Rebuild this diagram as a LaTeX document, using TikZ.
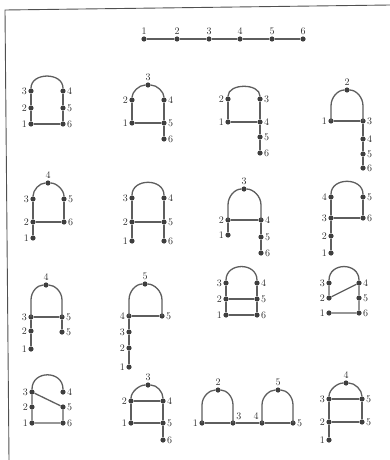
\documentclass[tikz,border=0pt]{standalone}
\usepackage{xcolor}
\definecolor{DotGrey}{HTML}{3E3E3E}
\definecolor{LineGrey}{HTML}{5E5E5E}
\definecolor{LabelGrey}{HTML}{2E2E2E}
\definecolor{FrameGrey}{HTML}{505050}
\usepackage{tikz}
\begin{document}
\begin{tikzpicture}[
    x=1pt, y=-1pt,
    vtx/.style={circle, fill=DotGrey, inner sep=0pt, minimum size=5.2pt},
    edge/.style={draw=LineGrey, line width=1.3pt},
    every label/.style={font=\fontsize{10}{12}\selectfont, text=LabelGrey, inner sep=0.8pt},
    label distance=0.4pt
  ]
    \useasboundingbox (0,0) rectangle (390,460);
    \draw[FrameGrey, line width=0.9pt] (390,5) -- (5,10) -- (9,460);

    % path
    \foreach \i/\x in {1/144,2/177,3/209,4/240,5/272,6/303}
      \node[vtx, label=above:\i] (t\i) at (\x,39) {};
    \draw[edge] (t1) -- (t2) -- (t3) -- (t4) -- (t5) -- (t6);

    % row 1
    \node[vtx, label=left:3] (a3) at (31,91) {};
    \node[vtx, label=left:2] (a2) at (31,108) {};
    \node[vtx, label=left:1] (a1) at (31,124) {};
    \node[vtx, label=right:4] (a4) at (63,91) {};
    \node[vtx, label=right:5] (a5) at (63,108) {};
    \node[vtx, label=right:6] (a6) at (63,124) {};
    \draw[edge] (a3) -- (a2) -- (a1) -- (a6) -- (a5) -- (a4);
    \draw[edge] (a3) .. controls +(0,-19) and +(0,-19) .. (a4);

    \node[vtx, label=above:3] (b3) at (148,85) {};
    \node[vtx, label=left:2] (b2) at (132,100) {};
    \node[vtx, label=right:4] (b4) at (164,100) {};
    \node[vtx, label=left:1] (b1) at (132,123) {};
    \node[vtx, label=right:5] (b5) at (164,123) {};
    \node[vtx, label=right:6] (b6) at (164,139) {};
    \draw[edge] (b2) -- (b1) -- (b5) -- (b4);
    \draw[edge] (b5) -- (b6);
    \draw[edge] (b2) .. controls +(0,-8) and +(-9,0) .. (b3)
                     .. controls +(9,0) and +(0,-8) .. (b4);

    \node[vtx, label=left:2] (c2) at (228,99) {};
    \node[vtx, label=right:3] (c3) at (260,99) {};
    \node[vtx, label=left:1] (c1) at (228,122) {};
    \node[vtx, label=right:4] (c4) at (260,122) {};
    \node[vtx, label=right:5] (c5) at (260,137) {};
    \node[vtx, label=right:6] (c6) at (260,153) {};
    \draw[edge] (c2) -- (c1) -- (c4);
    \draw[edge] (c3) -- (c4) -- (c5) -- (c6);
    \draw[edge] (c2) .. controls +(0,-16) and +(0,-16) .. (c3);

    \node[vtx, label=above:2] (d2) at (347,90) {};
    \node[vtx, label=left:1] (d1) at (331,121) {};
    \node[vtx, label=right:3] (d3) at (363,121) {};
    \node[vtx, label=right:4] (d4) at (363,139) {};
    \node[vtx, label=right:5] (d5) at (363,154) {};
    \node[vtx, label=right:6] (d6) at (363,168) {};
    \draw[edge] (d1) -- (d3) -- (d4) -- (d5) -- (d6);
    \draw[edge] (d1.center) -- ++(0,-15) .. controls +(0,-9) and +(-9,0) .. (d2);
    \draw[edge] (d3.center) -- ++(0,-15) .. controls +(0,-9) and +(9,0) .. (d2);

    % row 2
    \node[vtx, label=above:4] (e4) at (48,183) {};
    \node[vtx, label=left:3] (e3) at (33,199) {};
    \node[vtx, label=right:5] (e5) at (64,199) {};
    \node[vtx, label=left:2] (e2) at (33,222) {};
    \node[vtx, label=right:6] (e6) at (64,222) {};
    \node[vtx, label=left:1] (e1) at (33,238) {};
    \draw[edge] (e3) -- (e2) -- (e1);
    \draw[edge] (e2) -- (e6) -- (e5);
    \draw[edge] (e3) .. controls +(0,-9) and +(-8.5,0) .. (e4)
                     .. controls +(8.5,0) and +(0,-9) .. (e5);

    \node[vtx, label=left:3] (f3) at (132,198) {};
    \node[vtx, label=right:4] (f4) at (164,198) {};
    \node[vtx, label=left:2] (f2) at (132,222) {};
    \node[vtx, label=right:5] (f5) at (164,222) {};
    \node[vtx, label=left:1] (f1) at (132,241) {};
    \node[vtx, label=right:6] (f6) at (164,241) {};
    \draw[edge] (f3) -- (f2) -- (f1);
    \draw[edge] (f4) -- (f5) -- (f6);
    \draw[edge] (f2) -- (f5);
    \draw[edge] (f3) .. controls +(0,-20) and +(0,-20) .. (f4);

    \node[vtx, label=above:3] (g3) at (244,189) {};
    \node[vtx, label=left:2] (g2) at (228,220) {};
    \node[vtx, label=right:4] (g4) at (261,220) {};
    \node[vtx, label=left:1] (g1) at (228,235) {};
    \node[vtx, label=right:5] (g5) at (261,237) {};
    \node[vtx, label=right:6] (g6) at (261,253) {};
    \draw[edge] (g2) -- (g1);
    \draw[edge] (g2) -- (g4) -- (g5) -- (g6);
    \draw[edge] (g2.center) -- ++(0,-15) .. controls +(0,-9) and +(-9,0) .. (g3);
    \draw[edge] (g4.center) -- ++(0,-15) .. controls +(0,-9) and +(9,0) .. (g3);

    \node[vtx, label=left:4] (h4) at (331,197) {};
    \node[vtx, label=right:5] (h5) at (363,197) {};
    \node[vtx, label=left:3] (h3) at (331,218) {};
    \node[vtx, label=right:6] (h6) at (363,218) {};
    \node[vtx, label=left:2] (h2) at (331,236) {};
    \node[vtx, label=left:1] (h1) at (331,253) {};
    \draw[edge] (h4) -- (h3) -- (h2) -- (h1);
    \draw[edge] (h5) -- (h6) -- (h3);
    \draw[edge] (h4) .. controls +(0,-20) and +(0,-20) .. (h5);

    % row 3
    \node[vtx, label=above:4] (i4) at (46,285) {};
    \node[vtx, label=left:3] (i3) at (31,317) {};
    \node[vtx, label=right:5] (i5) at (62,317) {};
    \node[vtx, label=left:2] (i2) at (31,331) {};
    \node[vtx, label=right:5] (i6) at (62,332) {};
    \node[vtx, label=left:1] (i1) at (31,349) {};
    \draw[edge] (i3) -- (i5) -- (i6);
    \draw[edge] (i3) -- (i2) -- (i1);
    \draw[edge] (i3.center) -- ++(0,-17) .. controls +(0,-8.5) and +(-8.5,0) .. (i4);
    \draw[edge] (i5.center) -- ++(0,-17) .. controls +(0,-8.5) and +(8.5,0) .. (i4);

    \node[vtx, label=above:5] (j5) at (145,284) {};
    \node[vtx, label=left:4] (j4) at (129,316) {};
    \node[vtx, label=right:5] (j6) at (162,316) {};
    \node[vtx, label=left:3] (j3) at (129,332) {};
    \node[vtx, label=left:2] (j2) at (129,348) {};
    \node[vtx, label=left:1] (j1) at (129,367) {};
    \draw[edge] (j6) -- (j4) -- (j3) -- (j2) -- (j1);
    \draw[edge] (j4.center) -- ++(0,-16) .. controls +(0,-9) and +(-9,0) .. (j5);
    \draw[edge] (j6.center) -- ++(0,-16) .. controls +(0,-9) and +(9,0) .. (j5);

    \node[vtx, label=left:3] (k3) at (226,283) {};
    \node[vtx, label=right:4] (k4) at (257,283) {};
    \node[vtx, label=left:2] (k2) at (226,299) {};
    \node[vtx, label=right:5] (k5) at (257,299) {};
    \node[vtx, label=left:1] (k1) at (226,315) {};
    \node[vtx, label=right:6] (k6) at (257,315) {};
    \draw[edge] (k3) -- (k2) -- (k1) -- (k6) -- (k5) -- (k4);
    \draw[edge] (k2) -- (k5);
    \draw[edge] (k3) .. controls +(0,-21) and +(0,-21) .. (k4);

    \node[vtx, label=left:3] (l3) at (329,283) {};
    \node[vtx, label=right:4] (l4) at (359,283) {};
    \node[vtx, label=left:2] (l2) at (329,298) {};
    \node[vtx, label=right:5] (l5) at (359,298) {};
    \node[vtx, label=left:1] (l1) at (329,313) {};
    \node[vtx, label=right:6] (l6) at (359,313) {};
    \draw[edge] (l3) -- (l2) -- (l4) -- (l5) -- (l6) -- (l1);
    \draw[edge] (l3) .. controls +(0,-21) and +(0,-21) .. (l4);

    % row 4
    \node[vtx, label=left:3] (m3) at (32,392) {};
    \node[vtx, label=right:4] (m4) at (63,392) {};
    \node[vtx, label=left:2] (m2) at (32,407) {};
    \node[vtx, label=right:5] (m5) at (63,407) {};
    \node[vtx, label=left:1] (m1) at (32,423) {};
    \node[vtx, label=right:6] (m6) at (63,423) {};
    \draw[edge] (m3) -- (m2) -- (m1) -- (m6) -- (m5) -- (m3);
    \draw[edge] (m3) .. controls +(0,-22) and +(0,-22) .. (m4);

    \node[vtx, label=above:3] (n3) at (148,385) {};
    \node[vtx, label=left:2] (n2) at (131,401) {};
    \node[vtx, label=right:4] (n4) at (163,401) {};
    \node[vtx, label=left:1] (n1) at (131,423) {};
    \node[vtx, label=right:5] (n5) at (163,423) {};
    \node[vtx, label=right:6] (n6) at (163,440) {};
    \draw[edge] (n2) -- (n4) -- (n5) -- (n1) -- (n2);
    \draw[edge] (n5) -- (n6);
    \draw[edge] (n2) .. controls +(0,-9) and +(-9,0) .. (n3)
                     .. controls +(9,0) and +(0,-9) .. (n4);

    \node[vtx, label=above:2] (o2) at (218,390) {};
    \node[vtx, label=above:5] (o5) at (278,390) {};
    \node[vtx, label=left:1] (o1) at (202,423) {};
    \node[vtx, label=above right:3] (o3) at (233,423) {};
    \node[vtx, label=above left:4] (o4) at (262,423) {};
    \node[vtx, label=right:5] (o6) at (293,423) {};
    \draw[edge] (o1) -- (o3) -- (o4) -- (o6);
    \draw[edge] (o1.center) -- ++(0,-18) .. controls +(0,-8.5) and +(-8.5,0) .. (o2);
    \draw[edge] (o3.center) -- ++(0,-18) .. controls +(0,-8.5) and +(8.5,0) .. (o2);
    \draw[edge] (o4.center) -- ++(0,-18) .. controls +(0,-8.5) and +(-8.5,0) .. (o5);
    \draw[edge] (o6.center) -- ++(0,-18) .. controls +(0,-8.5) and +(8.5,0) .. (o5);

    \node[vtx, label=above:4] (p4) at (346,383) {};
    \node[vtx, label=left:3] (p3) at (329,399) {};
    \node[vtx, label=right:5] (p5) at (362,399) {};
    \node[vtx, label=left:2] (p2) at (329,422) {};
    \node[vtx, label=right:5] (p6) at (362,422) {};
    \node[vtx, label=left:1] (p1) at (329,440) {};
    \draw[edge] (p3) -- (p5) -- (p6) -- (p2) -- (p3);
    \draw[edge] (p2) -- (p1);
    \draw[edge] (p3) .. controls +(0,-9) and +(-9,0) .. (p4)
                     .. controls +(9,0) and +(0,-9) .. (p5);
\end{tikzpicture}
\end{document}
